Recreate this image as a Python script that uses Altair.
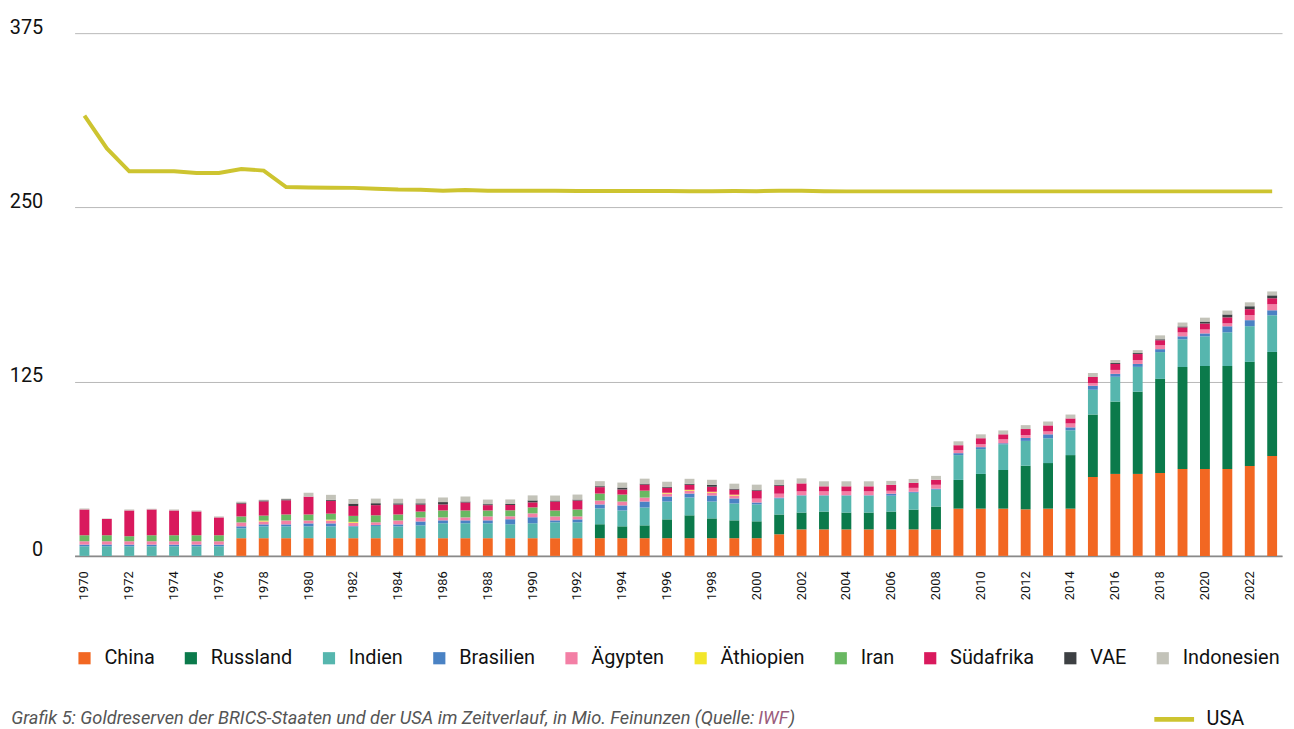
import altair as alt
import pandas as pd

years = list(range(1970, 2024))

laender = ["China", "Russland", "Indien", "Brasilien", "Ägypten", "Äthiopien",
           "Iran", "Südafrika", "VAE", "Indonesien"]
farben = ["#f26722", "#0b7a4b", "#56b6ae", "#4a82c4", "#f37fa5", "#f2e62b",
          "#69b862", "#d9195d", "#3d4043", "#c3c3b9"]

china = [0, 0, 0, 0, 0, 0, 0,
         12.7, 12.7, 12.7, 12.7, 12.7, 12.7, 12.7, 12.7, 12.7, 12.7, 12.7, 12.7, 12.7,
         12.7, 12.7, 12.7, 12.7, 12.7, 12.7, 12.7, 12.7, 12.7, 12.7, 12.7,
         15.5, 19.0, 19.0, 19.0, 19.0, 19.0, 19.0, 19.0,
         33.9, 33.9, 33.9, 33.4, 33.9, 33.9,
         56.6, 58.8, 58.8, 59.5, 62.3, 62.3, 62.3, 64.5, 71.6]
russland = [0] * 23 + [
         10.0, 8.5, 9.2, 13.5, 16.4, 14.2, 12.8, 12.1,
         14.2, 12.1, 12.8, 12.1, 12.1, 12.8, 14.2, 16.4,
         20.6, 24.9, 27.7, 31.3, 32.7, 38.4,
         44.8, 51.9, 59.0, 67.5, 73.2, 73.9, 73.9, 74.7, 74.7]
indien = [6.9, 6.9, 6.9, 6.9, 6.9, 6.9, 6.9,
          7.1, 8.5, 8.5, 8.5, 8.5, 8.3, 8.8, 8.5, 9.2, 10.7, 10.7, 10.7, 10.0,
          10.7, 11.4, 11.4, 11.4, 11.4, 12.8, 12.8, 12.8, 12.1, 12.1, 12.1,
          11.4, 12.1, 11.4, 12.1, 12.1, 11.4, 12.1, 12.1,
          17.8, 17.8, 18.5, 17.8, 17.8, 17.8,
          17.8, 17.8, 17.8, 19.2, 19.9, 21.3, 24.2, 25.6, 26.3]
brasilien = [1.2, 1.2, 1.2, 1.2, 1.2, 1.2, 1.2,
             1.4, 1.4, 1.4, 2.1, 2.1, 0.4, 0.7, 1.4, 2.8, 2.1, 2.1, 2.1, 3.6,
             4.3, 1.4, 2.1, 2.8, 3.6, 4.3, 3.6, 2.8, 4.3, 3.6, 1.4,
             0.7, 0.3, 0.3, 0.3, 0.3, 1.4, 0.7, 0.7,
             1.4, 1.4, 0.7, 2.1, 2.8, 2.1,
             2.8, 2.1, 2.1, 2.1, 2.1, 2.1, 4.3, 4.3, 3.6]
aegypten = [2.4, 2.4, 2.4, 2.4, 2.4, 2.4, 2.4,
            2.8, 2.1, 2.8, 2.1, 2.1, 2.4, 1.9, 2.8, 2.8, 2.1, 2.1, 2.8, 2.1,
            2.8, 2.8, 2.1, 2.8, 2.8, 2.8, 2.1, 2.1, 2.1, 2.1, 2.8,
            2.8, 2.8, 2.8, 2.8, 2.8, 2.1, 2.8, 2.8,
            2.1, 2.1, 2.8, 2.1, 2.1, 2.8,
            2.1, 2.8, 2.8, 2.8, 2.8, 2.8, 2.1, 3.6, 4.3]
aethiopien = [0, 0, 0, 0, 0, 0, 0,
              0, 0.6, 0, 0, 0.6, 0.6, 0, 0, 0, 0, 0, 0, 0,
              0, 0, 0, 0, 0, 0, 0.6, 0.6, 0.6, 0.6, 0,
              0, 0, 0, 0, 0, 0, 0, 0,
              0, 0, 0, 0, 0, 0,
              0, 0, 0, 0, 0, 0, 0, 0, 0]
iran = [4.3, 4.3, 3.6, 4.3, 4.3, 4.3, 4.3,
        4.3, 3.6, 4.3, 4.3, 4.3, 4.3, 5.0, 4.3, 4.3, 5.0, 5.0, 4.3, 4.3,
        4.3, 4.3, 5.0, 5.0, 5.0, 5.0, 0, 0, 0, 0, 0,
        0, 0, 0, 0, 0, 0, 0, 0,
        0, 0, 0, 0, 0, 0,
        0, 0, 0, 0, 0, 0, 0, 0, 0]
suedafrika = [18.5, 11.6, 18.5, 18.5, 17.8, 17.1, 12.8,
              9.2, 10.2, 10.2, 12.8, 9.2, 7.1, 7.3, 7.1, 5.0, 4.3, 5.7, 3.8, 3.8,
              3.6, 6.4, 6.4, 4.6, 3.6, 4.3, 3.6, 3.6, 3.6, 3.6, 5.7,
              5.7, 5.7, 3.6, 3.6, 3.6, 4.3, 3.6, 3.6,
              3.6, 4.3, 3.6, 4.3, 4.3, 3.6,
              4.3, 4.3, 4.3, 3.6, 3.6, 4.3, 4.3, 4.3, 4.3]
vae = [0, 0, 0, 0, 0, 0, 0,
       0.7, 0.7, 0.7, 0, 0.7, 1.7, 1.4, 0.9, 0.9, 1.7, 0.7, 0.7, 0.7,
       1.4, 0.7, 0.7, 0.7, 1.4, 0.7, 0.7, 0.7, 1.4, 0.7, 0.7,
       0.7, 0, 0, 0, 0, 0, 0, 0,
       0, 0, 0, 0, 0, 0,
       0, 0.7, 0.7, 0.7, 0.7, 1.4, 2.1, 2.1, 2.1]
indonesien = [0.7, 0.5, 0.7, 0.5, 0.7, 0.7, 0.7,
              0.7, 0.5, 0.5, 2.8, 3.6, 3.3, 3.3, 3.3, 3.3, 3.3, 3.6, 3.3, 3.3,
              3.6, 3.6, 3.6, 3.6, 3.6, 3.6, 3.6, 3.6, 3.6, 3.6, 3.6,
              3.6, 3.6, 3.6, 3.6, 3.6, 2.8, 2.8, 2.8,
              2.8, 2.8, 2.8, 2.8, 2.8, 2.8,
              2.8, 2.1, 2.1, 2.8, 2.8, 2.8, 2.8, 2.8, 2.8]
usa = [315.8, 292.3, 275.9, 275.9, 275.9, 274.7, 274.7, 277.6, 276.4, 264.6,
       264.3, 264.1, 264.0, 263.4, 262.8, 262.7, 262.0, 262.4, 261.9, 261.9,
       261.9, 261.9, 261.8, 261.8, 261.7, 261.7, 261.7, 261.6, 261.6, 261.7,
       261.6, 262.0, 262.0, 261.6, 261.5, 261.5, 261.5, 261.5, 261.5, 261.5,
       261.5, 261.5, 261.5, 261.5, 261.5, 261.5, 261.5, 261.5, 261.5, 261.5,
       261.5, 261.5, 261.5, 261.5]

caption_main = "Grafik 5: Goldreserven der BRICS-Staaten und der USA im Zeitverlauf, in Mio. Feinunzen (Quelle:"
caption_src = "IWF"
caption_end = ")"

serien = [china, russland, indien, brasilien, aegypten, aethiopien, iran,
          suedafrika, vae, indonesien]

rows = []
for k, (land, werte) in enumerate(zip(laender, serien)):
    for j, v in zip(years, werte):
        if v > 0:
            rows.append({"Jahr": j, "Land": land, "Wert": v, "Reihenfolge": k})
bars_df = pd.DataFrame(rows)
usa_df = pd.DataFrame({"Jahr": years, "Wert": usa, "Serie": "USA"})

FONT = "Roboto"

x_enc = alt.X("Jahr:O",
              scale=alt.Scale(paddingInner=0.56, paddingOuter=0.22),
              axis=alt.Axis(values=list(range(1970, 2024, 2)), labelAngle=270,
                            labelFontSize=13, labelPadding=15, ticks=False,
                            domainColor="#8a8a8a", domainWidth=2, title=None,
                            labelFont=FONT, labelColor="#111111"))
y_scale = alt.Scale(domain=[0, 375], nice=False)
y_axis = alt.Axis(values=[0, 125, 250, 375], grid=True, gridColor="#b8b8b8",
                  domain=False, ticks=False, labelFontSize=20, labelPadding=32,
                  labelBaseline="alphabetic", labelFont=FONT, labelColor="#111111",
                  title=None)

bars = alt.Chart(bars_df).mark_bar().encode(
    x=x_enc,
    y=alt.Y("sum(Wert):Q", scale=y_scale, axis=y_axis, stack="zero"),
    color=alt.Color("Land:N",
                    scale=alt.Scale(domain=laender, range=farben),
                    legend=alt.Legend(orient="none", legendX=0, legendY=619,
                                      direction="horizontal", columns=10,
                                      symbolType="square", symbolSize=150,
                                      labelFontSize=20, labelFont=FONT,
                                      labelColor="#111111", columnPadding=26,
                                      labelOffset=10, title=None,
                                      symbolStrokeWidth=0)),
    order=alt.Order("Reihenfolge:Q", sort="ascending"),
)

line = alt.Chart(usa_df).mark_line(strokeWidth=4).encode(
    x=x_enc,
    y=alt.Y("Wert:Q", scale=y_scale, axis=y_axis),
    stroke=alt.Stroke("Serie:N",
                      scale=alt.Scale(domain=["USA"], range=["#cdc430"]),
                      legend=alt.Legend(orient="none", legendX=1084, legendY=668,
                                        symbolType="stroke", symbolSize=1600,
                                        symbolStrokeWidth=5,
                                        labelFontSize=20, labelFont=FONT,
                                        labelColor="#111111", labelOffset=10,
                                        title=None)),
)

cap_df = pd.DataFrame({"a": [caption_main], "b": [caption_src], "c": [caption_end]})
cap_style = dict(baseline="alphabetic", fontSize=18.3, fontStyle="italic", font=FONT)
cap1 = alt.Chart(cap_df).mark_text(align="right", color="#555555", **cap_style).encode(
    text="a:N", x=alt.value(684), y=alt.value(695))
cap2 = alt.Chart(cap_df).mark_text(align="left", color="#9b5c7c", **cap_style).encode(
    text="b:N", x=alt.value(688), y=alt.value(695))
cap3 = alt.Chart(cap_df).mark_text(align="left", color="#555555", **cap_style).encode(
    text="c:N", x=alt.value(719), y=alt.value(695))

chart = alt.layer(bars, line, cap1, cap2, cap3).resolve_scale(
    color="independent"
).properties(
    width=1215, height=526,
    autosize=alt.AutoSizeParams(type="none"),
    padding={"left": 67, "top": 23, "right": 4, "bottom": 190},
    background="white",
).configure_view(stroke=None)

chart.save("out.html", embed_options={"renderer": "svg", "actions": False})
